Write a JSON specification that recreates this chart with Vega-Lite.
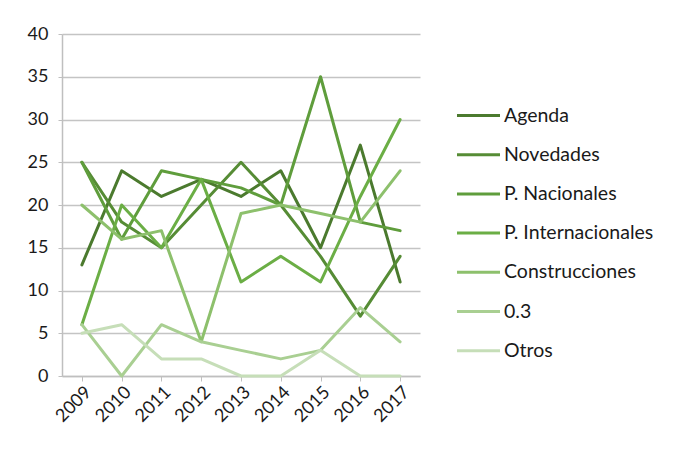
{
  "$schema": "https://vega.github.io/schema/vega-lite/v6.json",
  "autosize": "none",
  "width": 358,
  "height": 342,
  "padding": {"left": 62, "top": 34, "right": 253, "bottom": 73},
  "background": "white",
  "config": {
    "font": "Lato",
    "view": {"stroke": null},
    "axis": {"labelFont": "Lato", "labelFontSize": 18, "labelColor": "#1a1a1a", "domainColor": "#bfbfbf", "tickColor": "#bfbfbf", "gridColor": "#c4c4c4", "gridWidth": 1.5}
  },
  "data": {
    "values": [
      {"year": "2009", "series": "Agenda", "value": 13},
      {"year": "2010", "series": "Agenda", "value": 24},
      {"year": "2011", "series": "Agenda", "value": 21},
      {"year": "2012", "series": "Agenda", "value": 23},
      {"year": "2013", "series": "Agenda", "value": 21},
      {"year": "2014", "series": "Agenda", "value": 24},
      {"year": "2015", "series": "Agenda", "value": 15},
      {"year": "2016", "series": "Agenda", "value": 27},
      {"year": "2017", "series": "Agenda", "value": 11},
      {"year": "2009", "series": "Novedades", "value": 25},
      {"year": "2010", "series": "Novedades", "value": 18},
      {"year": "2011", "series": "Novedades", "value": 15},
      {"year": "2012", "series": "Novedades", "value": 20},
      {"year": "2013", "series": "Novedades", "value": 25},
      {"year": "2014", "series": "Novedades", "value": 20},
      {"year": "2015", "series": "Novedades", "value": 14},
      {"year": "2016", "series": "Novedades", "value": 7},
      {"year": "2017", "series": "Novedades", "value": 14},
      {"year": "2009", "series": "P. Nacionales", "value": 25},
      {"year": "2010", "series": "P. Nacionales", "value": 16},
      {"year": "2011", "series": "P. Nacionales", "value": 24},
      {"year": "2012", "series": "P. Nacionales", "value": 23},
      {"year": "2013", "series": "P. Nacionales", "value": 22},
      {"year": "2014", "series": "P. Nacionales", "value": 20},
      {"year": "2015", "series": "P. Nacionales", "value": 35},
      {"year": "2016", "series": "P. Nacionales", "value": 18},
      {"year": "2017", "series": "P. Nacionales", "value": 17},
      {"year": "2009", "series": "P. Internacionales", "value": 6},
      {"year": "2010", "series": "P. Internacionales", "value": 20},
      {"year": "2011", "series": "P. Internacionales", "value": 15},
      {"year": "2012", "series": "P. Internacionales", "value": 23},
      {"year": "2013", "series": "P. Internacionales", "value": 11},
      {"year": "2014", "series": "P. Internacionales", "value": 14},
      {"year": "2015", "series": "P. Internacionales", "value": 11},
      {"year": "2016", "series": "P. Internacionales", "value": 21},
      {"year": "2017", "series": "P. Internacionales", "value": 30},
      {"year": "2009", "series": "Construcciones", "value": 20},
      {"year": "2010", "series": "Construcciones", "value": 16},
      {"year": "2011", "series": "Construcciones", "value": 17},
      {"year": "2012", "series": "Construcciones", "value": 4},
      {"year": "2013", "series": "Construcciones", "value": 19},
      {"year": "2014", "series": "Construcciones", "value": 20},
      {"year": "2015", "series": "Construcciones", "value": 19},
      {"year": "2016", "series": "Construcciones", "value": 18},
      {"year": "2017", "series": "Construcciones", "value": 24},
      {"year": "2009", "series": "0.3", "value": 6},
      {"year": "2010", "series": "0.3", "value": 0},
      {"year": "2011", "series": "0.3", "value": 6},
      {"year": "2012", "series": "0.3", "value": 4},
      {"year": "2013", "series": "0.3", "value": 3},
      {"year": "2014", "series": "0.3", "value": 2},
      {"year": "2015", "series": "0.3", "value": 3},
      {"year": "2016", "series": "0.3", "value": 8},
      {"year": "2017", "series": "0.3", "value": 4},
      {"year": "2009", "series": "Otros", "value": 5},
      {"year": "2010", "series": "Otros", "value": 6},
      {"year": "2011", "series": "Otros", "value": 2},
      {"year": "2012", "series": "Otros", "value": 2},
      {"year": "2013", "series": "Otros", "value": 0},
      {"year": "2014", "series": "Otros", "value": 0},
      {"year": "2015", "series": "Otros", "value": 3},
      {"year": "2016", "series": "Otros", "value": 0},
      {"year": "2017", "series": "Otros", "value": 0}
    ]
  },
  "mark": {"type": "line", "strokeWidth": 3, "strokeJoin": "round", "strokeCap": "round"},
  "encoding": {
    "x": {
      "field": "year", "type": "ordinal", "title": null,
      "scale": {"type": "point", "padding": 0.5},
      "axis": {"labelAngle": -45, "labelAlign": "right", "labelBaseline": "top", "grid": false, "tickSize": 5, "labelPadding": 2, "domainWidth": 1.5}
    },
    "y": {
      "field": "value", "type": "quantitative", "title": null,
      "scale": {"domain": [0, 40]},
      "axis": {"values": [0, 5, 10, 15, 20, 25, 30, 35, 40], "tickSize": 4, "labelPadding": 10, "domainWidth": 1.5}
    },
    "color": {
      "field": "series", "type": "nominal",
      "sort": ["Agenda", "Novedades", "P. Nacionales", "P. Internacionales", "Construcciones", "0.3", "Otros"],
      "scale": {
        "domain": ["Agenda", "Novedades", "P. Nacionales", "P. Internacionales", "Construcciones", "0.3", "Otros"],
        "range": ["#4b7a2e", "#568c35", "#5f9d3c", "#6bae45", "#8dc06c", "#a9cf92", "#c6deb8"]
      },
      "legend": {
        "title": null, "orient": "none", "legendX": 393, "legendY": 58,
        "symbolType": "stroke", "symbolSize": 1850, "symbolStrokeWidth": 3,
        "labelFont": "Lato", "labelFontSize": 19.5, "labelColor": "#1a1a1a",
        "rowPadding": 6.2, "labelOffset": 2
      }
    }
  }
}
